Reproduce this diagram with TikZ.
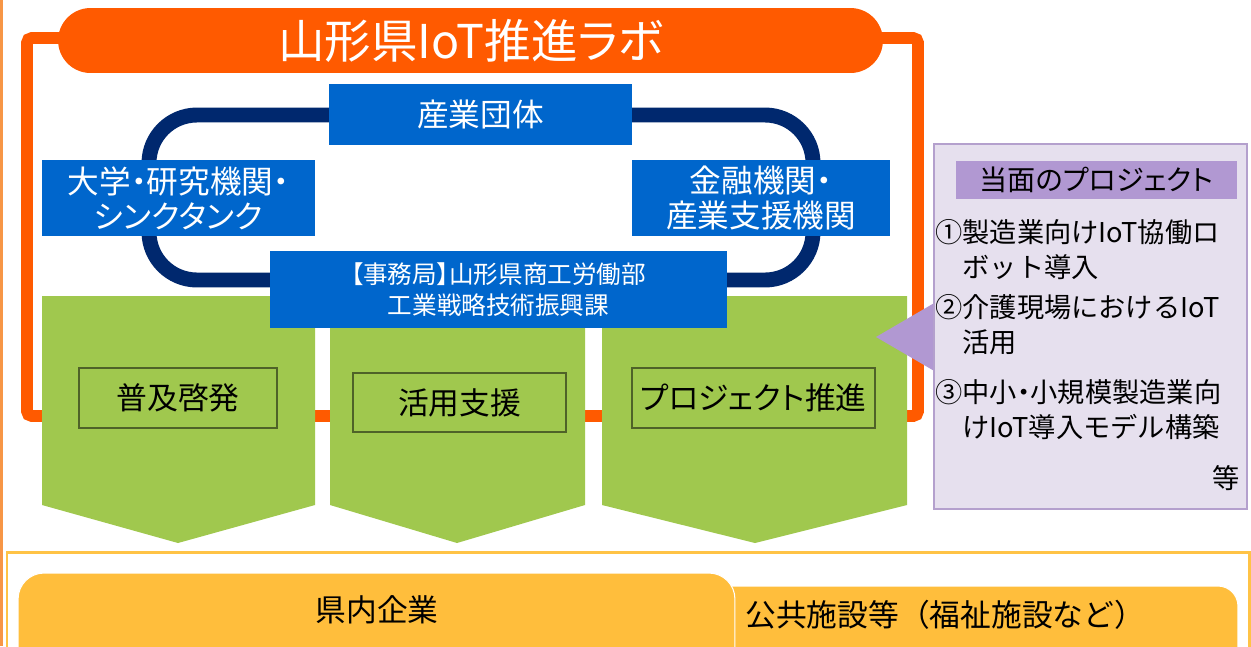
\documentclass[tikz,border=0pt]{standalone}
\usepackage{fontspec}
\setmainfont{Noto Sans CJK JP}
\newfontfamily\jpp[RawFeature=+palt]{Noto Sans CJK JP}

\definecolor{naranja}{RGB}{255,90,0}
\definecolor{naranjaclaro}{RGB}{247,150,70}
\definecolor{amarillo}{RGB}{255,190,60}
\definecolor{bordeamarillo}{RGB}{255,195,70}
\definecolor{azul}{RGB}{0,102,204}
\definecolor{marino}{RGB}{0,40,110}
\definecolor{verde}{RGB}{160,200,78}
\definecolor{oliva}{RGB}{79,98,40}
\definecolor{lila}{RGB}{177,152,210}
\definecolor{lilaclaro}{RGB}{230,224,238}
\definecolor{lilaborde}{RGB}{180,160,205}

\begin{document}
\begin{tikzpicture}[x=0.02cm, y=-0.02cm,
  socio/.style={fill=azul, text=white, inner sep=0pt, align=center, font=\jpp\fontsize{18}{20}\selectfont},
  tarea/.style={draw=oliva, line width=1.1pt, fill=verde, inner sep=0pt, font=\jpp\fontsize{17.5}{20}\selectfont},
  item/.style={anchor=west, inner sep=0pt, align=left, font=\fontsize{15.5}{19.8}\selectfont},
  pastilla/.style={fill=amarillo, draw=white, line width=0.6pt, inner sep=0pt}]

  % Fondo
  \useasboundingbox (0,0) rectangle (1251,646);
  \clip (0,0) rectangle (1251,646);
  \fill[white] (0,0) rectangle (1251,646);
  \draw[naranjaclaro, line width=1.7pt] (1.5,0) -- (1.5,646);

  % Marco de la ラボ
  \draw[naranja, line width=6.8pt, rounded corners=0.1cm] (27,38) rectangle (918,416);
  \node[fill=naranja, text=white, minimum width=16.5cm, minimum height=1.3cm, rounded corners=0.65cm,
        inner sep=0pt, font=\jpp\fontsize{26.5}{30}\selectfont] (lab) at (470.5,40.5) {山形県IoT推進ラボ};

  % Anillo
  \draw[marino, line width=8.5pt, rounded corners=0.96cm] (149,115) rectangle (813,280);

  % Flechas verdes
  \foreach \l/\r/\t in {42/315/178, 330/585/457, 602/907/755}
    \fill[verde] (\l,296) -- (\r,296) -- (\r,505) -- (\t,543) -- (\l,505) -- cycle;
  \node[tarea, minimum width=3.96cm, minimum height=1.2cm] (fukyu) at (178,398) {普及啓発};
  \node[tarea, minimum width=4.26cm, minimum height=1.18cm] (katsuyo) at (459.5,402.5) {活用支援};
  \node[tarea, minimum width=4.86cm, minimum height=1.2cm] (proyecto) at (753.5,398) {プロジェクト推進};

  % Socios
  \node[socio, minimum width=6.06cm, minimum height=1.22cm] (sangyo) at (480.5,114.5) {産業団体};
  \node[socio, minimum width=5.46cm, minimum height=1.52cm] (daigaku) at (178.5,198) {大学・研究機関・\\シンクタンク};
  \node[socio, minimum width=5.16cm, minimum height=1.52cm] (kinyu) at (761,198) {金融機関・\\産業支援機関};
  \node[socio, minimum width=9.14cm, minimum height=1.54cm, font=\jpp\fontsize{14}{18}\selectfont] (jimu) at (498.5,289.5)
    {【事務局】山形県商工労働部\\工業戦略技術振興課};

  % Proyectos
  \coordinate (punta) at (876,337);
  \fill[lila] (punta) -- (936,302) -- (936,372) -- cycle;
  \node[draw=lilaborde, fill=lilaclaro, line width=1.1pt, minimum width=6.26cm, minimum height=7.3cm,
        inner sep=0pt] (panel) at (1090.5,326.5) {};
  \node[fill=lila, minimum width=5.62cm, minimum height=0.76cm, inner sep=0pt,
        font=\jpp\fontsize{16}{18}\selectfont] (cabecera) at (1096.5,180) {当面のプロジェクト};
  \node[item] (p1) at (935,249.5) {①製造業向けIoT協働ロ\\\hphantom{①}ボット導入};
  \node[item] (p2) at (935,324.5) {②介護現場におけるIoT\\\hphantom{②}活用};
  \node[item] (p3) at (935,409.5) {③中小{\jpp・}小規模製造業向\\\hphantom{③}けIoT導入モデル構築};
  \node[anchor=east, inner sep=0pt, font=\fontsize{15.5}{18}\selectfont] (etc) at (1240,478) {等};

  % Destinatarios
  \draw[bordeamarillo, line width=1.7pt] (7,552) rectangle (1249,700);
  \node[pastilla, rounded corners=0.4cm, minimum width=10.76cm, minimum height=2.68cm] (publico) at (969,653) {};
  \node[pastilla, rounded corners=0.52cm, minimum width=14.34cm, minimum height=2.94cm] (empresas) at (376.5,646.5) {};
  \node[font=\fontsize{17.5}{20}\selectfont] (kennai) at (377,610) {県内企業};
  \node[anchor=west, inner sep=0pt, font=\fontsize{17.5}{20}\selectfont] (koukyou) at (745,615) {公共施設等（福祉施設など）};
\end{tikzpicture}
\end{document}
